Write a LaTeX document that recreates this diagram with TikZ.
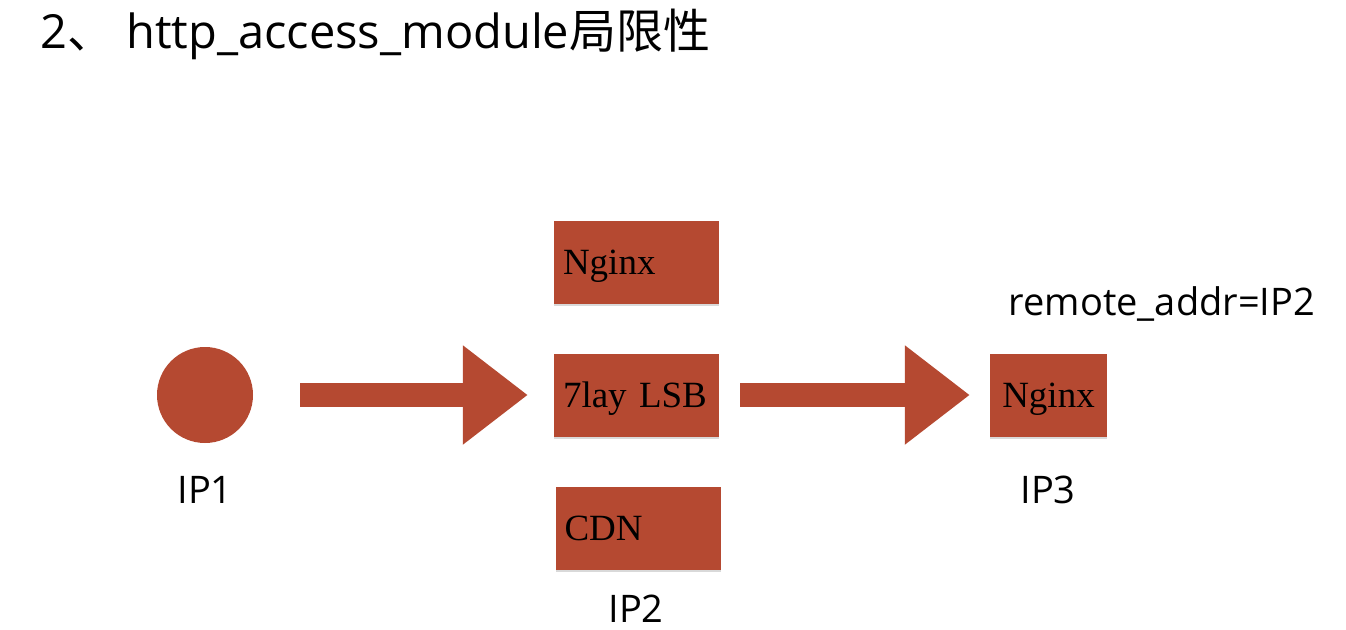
\documentclass[tikz,border=0pt]{standalone}
\usepackage{fontspec}
\setmainfont{Open Sans}
\newfontfamily\boxfont{Liberation Serif}
\newfontfamily\cjk{Noto Sans CJK SC}
\usetikzlibrary{arrows.meta,shadows}

\definecolor{brick}{RGB}{181,73,49}
\tikzset{
  part/.style={fill=brick, draw=none, drop shadow={shadow xshift=0pt, shadow yshift=-2pt, opacity=0.3},
    minimum height=83pt, inner xsep=9pt, text height=24pt, text depth=0pt,
    font=\boxfont\fontsize{37}{40}\selectfont},
  leftpart/.style={part, text width=147pt, align=left},
  tag/.style={font=\fontsize{38}{42}\selectfont, anchor=base},
  fat/.style={brick, line width=24pt, -{Triangle[width=95pt,length=65pt]}}
}

\begin{document}
\begin{tikzpicture}[x=1pt,y=-1pt]
  \useasboundingbox (0,0) rectangle (1346,629);
  \path (40,48) node[anchor=base west, inner sep=0pt, font=\fontsize{47}{50}\selectfont] (title) {2{\cjk 、} http\_access\_module{\cjk 局限性}};
  \path (205,395) node[circle, fill=brick, minimum size=96pt, inner sep=0pt] (ip1) {};
  \path (636.5,262.5) node[leftpart] (nginx) {Nginx};
  \path (636.5,395) node[leftpart] (lsb) {\mbox{7lay LSB}};
  \path (638,528) node[leftpart] (cdn) {CDN};
  \path (1048.5,395) node[part, minimum width=117pt] (web) {Nginx};
  \path (205,503) node[tag] (ipa) {IP1};
  \path (636,622) node[tag] (ipb) {IP2};
  \path (1048,503) node[tag] (ipc) {IP3};
  \path (1162,315) node[tag] (addr) {remote\_addr=IP2};
  \draw[fat, shorten <=47pt, shorten >=26pt] (ip1.east) -- (lsb.west);
  \draw[fat, shorten <=21pt, shorten >=20pt] (lsb.east) -- (web.west);
\end{tikzpicture}
\end{document}
